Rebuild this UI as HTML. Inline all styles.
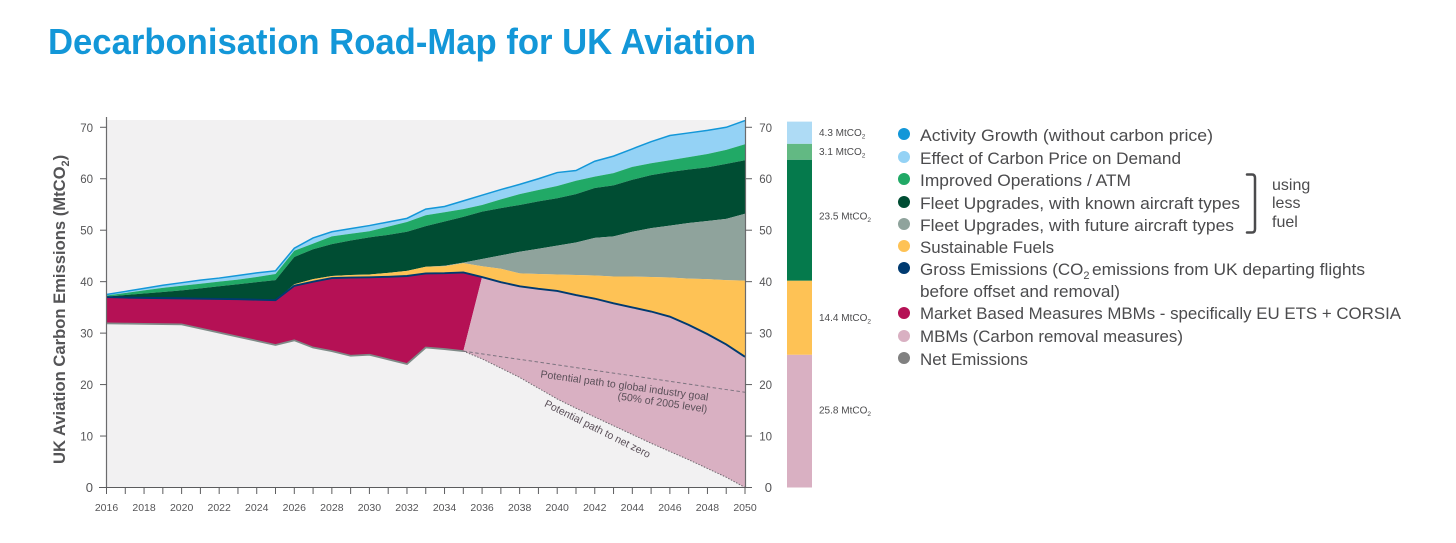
<!DOCTYPE html>
<html lang="en">
<head>
<meta charset="utf-8">
<title>Decarbonisation Road-Map for UK Aviation</title>
<style>
html,body{margin:0;padding:0;background:#fff;width:1456px;height:543px;overflow:hidden}
svg{display:block;font-family:"Liberation Sans",sans-serif}
.lg{font-size:17px;fill:#4b4b4d}
.bl{font-size:10px;fill:#4b4b4d}
.an{font-size:10.5px;fill:#5a4f58}
</style>
</head>
<body>
<svg id="chart" xmlns="http://www.w3.org/2000/svg" width="1456" height="543" viewBox="0 0 1456 543">
  <text x="48" y="54" font-size="36" font-weight="bold" fill="#1397d8" textLength="708" lengthAdjust="spacingAndGlyphs">Decarbonisation Road-Map for UK Aviation</text>
  <rect x="107" y="120" width="638" height="367" fill="#f2f1f2"/>
  <g id="areas"></g>
  <g id="lines"></g>
  <g id="axes"></g>
  <text transform="translate(65,464) rotate(-90)" font-size="16.6" font-weight="bold" fill="#545456">UK Aviation Carbon Emissions (MtCO<tspan font-size="11" dy="4">2</tspan><tspan dy="-4">)</tspan></text>
  <text class="an" text-anchor="middle" transform="translate(624,389) rotate(7.9)">Potential path to global industry goal</text>
  <text class="an" text-anchor="middle" transform="translate(662,406) rotate(8.4)">(50% of 2005 level)</text>
  <text class="an" text-anchor="middle" transform="translate(596,432) rotate(26.5)">Potential path to net zero</text>
  <g id="bar"></g>

  <g>
    <g><circle cx="904" cy="134" r="6" fill="#1397d8"/><text class="lg" x="920" y="141" textLength="293" lengthAdjust="spacingAndGlyphs">Activity Growth (without carbon price)</text></g>
    <g><circle cx="904" cy="157" r="6" fill="#94d2f5"/><text class="lg" x="920" y="164" textLength="261" lengthAdjust="spacingAndGlyphs">Effect of Carbon Price on Demand</text></g>
    <g><circle cx="904" cy="179" r="6" fill="#21a966"/><text class="lg" x="920" y="186" textLength="211" lengthAdjust="spacingAndGlyphs">Improved Operations / ATM</text></g>
    <g><circle cx="904" cy="202" r="6" fill="#004d33"/><text class="lg" x="920" y="209" textLength="320" lengthAdjust="spacingAndGlyphs">Fleet Upgrades, with known aircraft types</text></g>
    <g><circle cx="904" cy="224" r="6" fill="#8fa39c"/><text class="lg" x="920" y="231" textLength="314" lengthAdjust="spacingAndGlyphs">Fleet Upgrades, with future aircraft types</text></g>
    <g><circle cx="904" cy="246" r="6" fill="#fec255"/><text class="lg" x="920" y="253" textLength="134" lengthAdjust="spacingAndGlyphs">Sustainable Fuels</text></g>
    <g><circle cx="904" cy="268" r="6" fill="#003a70"/>
      <text class="lg" x="920" y="275">Gross Emissions (CO<tspan font-size="11" dy="4">2</tspan></text>
      <text class="lg" x="1092" y="275" textLength="273" lengthAdjust="spacingAndGlyphs">emissions from UK departing flights</text>
      <text class="lg" x="920" y="297" textLength="200" lengthAdjust="spacingAndGlyphs">before offset and removal)</text></g>
    <g><circle cx="904" cy="313" r="6" fill="#b51155"/><text class="lg" x="920" y="319" textLength="481" lengthAdjust="spacingAndGlyphs">Market Based Measures MBMs - specifically EU ETS + CORSIA</text></g>
    <g><circle cx="904" cy="336" r="6" fill="#d9b0c2"/><text class="lg" x="920" y="342" textLength="263" lengthAdjust="spacingAndGlyphs">MBMs (Carbon removal measures)</text></g>
    <g><circle cx="904" cy="358" r="6" fill="#808080"/><text class="lg" x="920" y="365" textLength="108" lengthAdjust="spacingAndGlyphs">Net Emissions</text></g>
    <path d="M1247 174.500 H1252 Q1255 174.500 1255 178 V229 Q1255 232.500 1252 232.500 H1247" fill="none" stroke="#4b4b4d" stroke-width="2.500" stroke-linecap="round"/>
    <g font-size="16" fill="#4b4b4d">
      <text x="1272" y="190">using</text>
      <text x="1272" y="208">less</text>
      <text x="1272" y="227">fuel</text>
    </g>
  </g>
</svg>
<script>
const years = [2016,2017,2018,2019,2020,2021,2022,2023,2024,2025,2026,2027,2028,2029,2030,2031,2032,2033,2034,2035,2036,2037,2038,2039,2040,2041,2042,2043,2044,2045,2046,2047,2048,2049,2050];
const activityTop = [37.5,38.1,38.7,39.3,39.8,40.3,40.7,41.2,41.7,42.1,46.5,48.5,49.7,50.3,50.9,51.6,52.3,54.1,54.6,55.7,56.8,57.9,58.9,60.0,61.2,61.6,63.4,64.4,65.8,67.2,68.4,68.9,69.4,70.0,71.3];
const operationsTop = [37.3,37.8,38.3,38.8,39.2,39.6,40.0,40.4,40.9,41.5,46.0,47.4,48.8,49.3,49.8,50.7,51.6,52.9,53.5,54.1,54.9,56.0,57.0,57.8,58.6,59.6,60.4,61.1,62.3,63.0,63.6,64.2,64.8,65.6,66.7];
const knownFleetTop = [37.1,37.4,37.7,38.0,38.3,38.7,39.1,39.5,39.9,40.3,44.8,46.3,47.3,48.0,48.6,49.1,49.7,50.8,51.7,52.6,53.6,54.3,54.9,55.6,56.2,57.0,58.2,58.7,59.8,60.7,61.3,61.8,62.2,62.9,63.6];
const futureFleetTop = [37.0,36.9,36.85,36.8,36.75,36.7,36.65,36.6,36.5,36.4,39.5,40.5,41.1,41.3,41.4,41.7,42.1,42.9,43.1,43.7,44.4,45.1,45.8,46.4,47.0,47.6,48.5,48.8,49.7,50.4,50.9,51.4,51.8,52.2,53.2];
const fuelsTop = [37.0,36.9,36.85,36.8,36.75,36.7,36.65,36.6,36.5,36.4,39.5,40.5,41.1,41.3,41.4,41.7,42.1,42.9,43.0,43.6,43.0,42.5,41.6,41.5,41.4,41.3,41.2,41.0,41.0,40.9,40.8,40.6,40.5,40.3,40.2];
const grossEmissions = [37.0,36.9,36.85,36.8,36.75,36.7,36.65,36.6,36.5,36.4,39.2,40.0,40.7,40.8,40.85,40.95,41.1,41.6,41.65,41.8,40.9,39.9,39.1,38.6,38.2,37.4,36.7,35.8,35.0,34.2,33.2,31.6,29.8,27.8,25.4];
const netEmissions = [31.9,31.85,31.8,31.75,31.7,30.9,30.1,29.3,28.5,27.7,28.6,27.2,26.5,25.6,25.8,24.9,24.0,27.2,26.9,26.5];
const netZeroYears = [2035,2036,2037,2038,2039,2040,2041,2042,2043,2044,2045,2046,2047,2048,2049,2050];
const netZeroPath = [26.5,25.0,23.2,21.4,19.3,17.2,15.4,13.7,12.0,10.3,8.6,7.0,5.4,3.7,2.0,0];
const goalYears = [2035,2050];
const goalPath = [26.5,18.5];
const yTickValues = [0,10,20,30,40,50,60,70];
const xTickLabels = [2016,2018,2020,2022,2024,2026,2028,2030,2032,2034,2036,2038,2040,2042,2044,2046,2048,2050];
const barValues = [25.8,14.4,23.5,3.1,4.3];
const barNames = ['removal','fuels','fleet','operations','demand'];
const barFills = ['#d9b0c2','#fec255','#057a4c','#62b983','#aedbf5'];

const NS = 'http://www.w3.org/2000/svg';
const xScale = function (yr) { return 106.5 + (yr - 2016) * (745 - 106.5) / 34; };
const yScale = function (v) { return 487.5 - v * 5.146; };

function make(tag, parent, attrs) {
  const el = document.createElementNS(NS, tag);
  for (const k in attrs) el.setAttribute(k, attrs[k]);
  parent.appendChild(el);
  return el;
}
function pts(ys, vals) {
  return ys.map(function (yr, i) { return xScale(yr).toFixed(2) + ',' + yScale(vals[i]).toFixed(2); });
}
function band(upper, lower) {
  return pts(years, upper).concat(pts(years, lower).reverse()).join(' ');
}

const areas = document.getElementById('areas');
const lines = document.getElementById('lines');
const axes = document.getElementById('axes');
const bar = document.getElementById('bar');

let el;
el = make('polygon', areas, { points: band(activityTop, operationsTop), fill: '#94d2f5' });


el = make('polygon', areas, { points: band(operationsTop, knownFleetTop), fill: '#21a966' });


el = make('polygon', areas, { points: band(knownFleetTop, futureFleetTop), fill: '#004d33' });


el = make('polygon', areas, { points: band(futureFleetTop, fuelsTop), fill: '#8fa39c' });


el = make('polygon', areas, { points: band(fuelsTop, grossEmissions), fill: '#fec255' });



// Market based measures run between gross and net emissions, closing one year after net ends.
const mbmYears = years.slice(0, netEmissions.length + 1);
const mbmGross = grossEmissions.slice(0, netEmissions.length + 1);
const netYears = years.slice(0, netEmissions.length);
el = make('polygon', areas, { points: pts(mbmYears, mbmGross).concat(pts(netYears, netEmissions).reverse()).join(' '), fill: '#b51155' });



const removalStart = netEmissions.length;
el = make('polygon', areas, { points: pts(years.slice(removalStart), grossEmissions.slice(removalStart)).concat(pts(netZeroYears, netZeroPath).reverse()).join(' '), fill: '#d9b0c2' });



el = make('polyline', lines, { points: pts(years, activityTop).join(' '), fill: 'none', stroke: '#1397d8', 'stroke-width': 1.5 });


el = make('polyline', lines, { points: pts(netYears, netEmissions).join(' '), fill: 'none', stroke: '#7f8a87', 'stroke-width': 1.8 });


el = make('polyline', lines, { points: pts(years, grossEmissions).join(' '), fill: 'none', stroke: '#003a70', 'stroke-width': 1.9 });


el = make('polyline', lines, { points: pts(goalYears, goalPath).join(' '), fill: 'none', stroke: '#7d7480', 'stroke-width': 1, 'stroke-dasharray': '3.500 2.500' });


el = make('polyline', lines, { points: pts(netZeroYears, netZeroPath).join(' '), fill: 'none', stroke: '#6f6a70', 'stroke-width': 1, 'stroke-dasharray': '1.500 1.500' });



const axisColor = '#5c5c5e';
el = make('line', axes, { x1: 106.5, x2: 106.5, y1: 117, y2: 487.5, stroke: '#6b6b6d', 'stroke-width': 1.2 });


el = make('line', axes, { x1: 745.5, x2: 745.5, y1: 117, y2: 487.5, stroke: '#6b6b6d', 'stroke-width': 1.2 });


el = make('line', axes, { x1: 99, x2: 752, y1: 487.5, y2: 487.5, stroke: axisColor, 'stroke-width': 1 });



years.forEach(function (yr) {
  const t = make('line', axes, { x1: xScale(yr), x2: xScale(yr), y1: 487.5, y2: 494, stroke: axisColor, 'stroke-width': 1 });
  
  
});
xTickLabels.forEach(function (yr) {
  const t = make('text', axes, { x: xScale(yr), y: 511, 'text-anchor': 'middle', 'font-size': 10.5, fill: '#555557' });
  t.textContent = yr;
  
  
});
yTickValues.forEach(function (v) {
  const y = yScale(v);
  const big = v === 0 ? 13 : 11.5;
  let t = make('line', axes, { x1: 100, x2: 106.5, y1: y, y2: y, stroke: axisColor, 'stroke-width': 1 });
  
  
  t = make('line', axes, { x1: 745.5, x2: 752, y1: y, y2: y, stroke: axisColor, 'stroke-width': 1 });
  
  
  t = make('text', axes, { x: 93, y: y + 4.5, 'text-anchor': 'end', 'font-size': big, fill: '#555557' });
  t.textContent = v;
  
  
  t = make('text', axes, { x: 772, y: y + 4.5, 'text-anchor': 'end', 'font-size': big, fill: '#555557' });
  t.textContent = v;
  
  
});

let running = 0;
barValues.forEach(function (v, i) {
  const top = yScale(running + v);
  const bottom = yScale(running);
  const seg = make('rect', bar, { x: 787, y: top, width: 25, height: bottom - top, fill: barFills[i] });
  
  
  const label = make('text', bar, { x: 819, y: (top + bottom) / 2 + (i === 0 ? -11 : (i === 2 ? -4 : 0)) + 3.5, class: 'bl' });
  label.textContent = v.toFixed(1) + ' MtCO';
  const sub = make('tspan', label, { 'font-size': 6.5, dy: 2.5 });
  sub.textContent = '2';
  
  
  running += v;
});
</script>
</body>
</html>
